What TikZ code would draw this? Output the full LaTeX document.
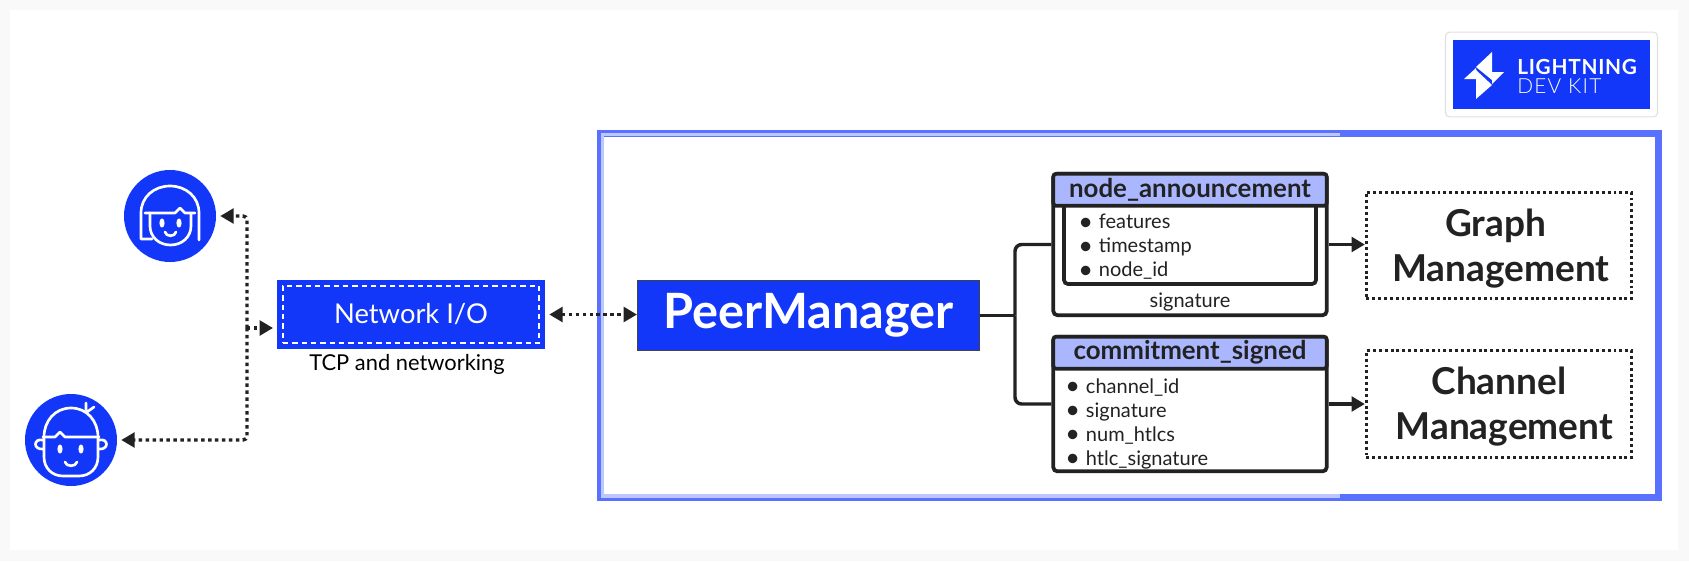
\documentclass[tikz,border=0pt]{standalone}
\usepackage{fontspec}
\setmainfont{Lato}
\newfontfamily\lightfont[LetterSpace=6]{Lato Light}
\newfontfamily\logofont[LetterSpace=3.5]{Lato}
\usetikzlibrary{arrows.meta}
\definecolor{ldkblue}{HTML}{1237F9}
\definecolor{framefg}{HTML}{5A71FF}
\definecolor{framelt}{HTML}{BCC6FF}
\definecolor{headfg}{HTML}{AAB7FF}
\definecolor{ink}{HTML}{222222}
\newcommand{\fsz}[1]{\fontsize{#1}{#1}\selectfont}
\newcommand{\itm}[1]{\makebox[15.5pt][l]{\raisebox{-1pt}{\fontsize{19}{18}\selectfont\textbullet}}#1}
\newcommand{\mgmttop}{\rule{0pt}{25pt}}
\tikzset{
  >={Triangle[length=10pt,width=11pt]},
  dotline/.style={ink,line width=2.6pt,dash pattern=on 2.6pt off 2.6pt,rounded corners=3pt},
  solidline/.style={ink,line width=2.6pt},
  tablebox/.style={draw=ink,fill=white,line width=2.8pt,rounded corners=3pt,minimum width=205pt},
  tablehead/.style={draw=ink,fill=headfg,line width=2.8pt,rounded corners=2pt,minimum width=205pt,
    minimum height=24pt,text=ink,font=\fsz{19.4}\bfseries,anchor=north,inner sep=0pt},
  fieldlist/.style={text=ink,font=\fontsize{15}{18}\selectfont,align=left,anchor=west,inner sep=0pt},
  mgmtbox/.style={draw=ink,line width=2.2pt,dash pattern=on 2.2pt off 2.2pt,minimum width=199pt,
    minimum height=80pt,text=ink,font=\fontsize{27.8}{33.7}\selectfont\bfseries,align=center},
  avatar/.style={circle,fill=ldkblue,minimum size=69pt,inner sep=0pt},
  faceline/.style={white,line width=2pt,line cap=round,line join=round},
}

\begin{document}
\begin{tikzpicture}[x=0.75pt,y=-0.75pt]
   \useasboundingbox (0,0) rectangle (1689,561);
   \fill[black!2.5] (0,0) rectangle (1689,561);
   \fill[white] (10,10) rectangle (1678,550);

   % frame
   \draw[framefg,line width=5.2pt] (600,133.5) rectangle (1658.5,497.5);
   \draw[framelt,line width=2.4pt] (1340,134.5) -- (602.5,134.5) -- (602.5,496) -- (1340,496);

   % logo
   \node[draw=black!12,fill=white,line width=0.8pt,rounded corners=3pt,minimum width=159pt,minimum height=63.5pt] (logoback) at (1551.5,74.5) {};
   \node[fill=ldkblue,minimum width=148pt,minimum height=52pt] (logo) at (1551.5,74.5) {};
   \fill[white] (1492,52) -- (1492,80) -- (1476,67) -- cycle;
   \fill[white] (1476,68) -- (1476,79) -- (1464,79) -- cycle;
   \fill[white] (1476,70) -- (1492,85) -- (1476,99) -- cycle;
   \fill[white] (1492,72) -- (1504,72) -- (1492,84) -- cycle;
   \node[white,font=\fsz{15.6}\logofont\bfseries,anchor=base west,inner sep=0pt] (logotop) at (1517,74) {LIGHTNING};
   \node[white,font=\fsz{15.6}\lightfont,anchor=base west,inner sep=0pt] (logobot) at (1517,93) {DEV KIT};

   % users
   \node[avatar] (girl) at (170,216) {};
   \begin{scope}[faceline]
     \draw (152,239) -- (141,239) -- (141,213) .. controls (141,197) and (154,186) .. (170,186) .. controls (186,186) and (199,197) .. (199,213) -- (199,240);
     \draw (145,213) -- (175,213) -- (180,208) -- (185,213) -- (195,213);
     \draw (150,213) -- (150,226) .. controls (150,237) and (159,245) .. (170.5,245) .. controls (182,245) and (191,237) .. (191,226) -- (191,213);
     \draw (165,232) .. controls (166,237) and (175,237) .. (176,232);
     \fill (162,223) ellipse [x radius=2.6,y radius=4.6];
     \fill (179,223) ellipse [x radius=2.6,y radius=4.6];
   \end{scope}

   \node[avatar] (boy) at (71,440) {};
   \begin{scope}[faceline,yshift=-0.75pt]
     \draw (44,436) .. controls (44,420) and (55,407) .. (71,407) .. controls (87,407) and (98,420) .. (98,436);
     \draw (43,436) -- (55,436) -- (60,431) -- (65,436) -- (99,436);
     \draw (44,436) -- (44,456) .. controls (44,467) and (52,475) .. (63,475) -- (79,475) .. controls (90,475) and (98,467) .. (98,456) -- (98,436);
     \draw (43,439) .. controls (33,437) and (33,449) .. (43,448);
     \draw (99,439) .. controls (109,437) and (109,449) .. (99,448);
     \draw (86,402) -- (86,410) (87,411) -- (94,406);
     \draw (65,461) .. controls (66,466) and (76,466) .. (77,461);
     \fill (60,448) ellipse [x radius=2.6,y radius=4.6];
     \fill (81,448) ellipse [x radius=2.6,y radius=4.6];
   \end{scope}

   % network box
   \node[fill=ldkblue,minimum width=201pt,minimum height=52pt,text=white,font=\fsz{20.5}] (netio) at (411,314.5) {\raisebox{-3pt}{Network I/O}};
   \node[draw=white,line width=1.8pt,dash pattern=on 4pt off 3pt,minimum width=192pt,minimum height=43pt] (netinner) at (411,314.5) {};
   \node[text=black,font=\fsz{16.4}] (netlabel) at (407,364.5) {TCP and networking};

   \coordinate (junc) at (247,328);
   \coordinate (netin) at (277,328);
   \draw[dotline,->,shorten >=3pt] (junc) |- (girl.east);
   \draw[dotline,->,shorten >=3pt] (junc) |- (boy.east);
   \draw[dotline,->,shorten >=3pt] (junc) -- (netin);

   % peer manager
   \node[draw=ink!85,fill=ldkblue,line width=0.8pt,minimum width=256.5pt,minimum height=52.5pt,text=white,font=\fsz{36.5}\bfseries] (peer) at (808.5,315.5) {\raisebox{-4pt}{PeerManager}};
   \draw[dotline,<->,shorten <=3pt] (netio.east) -- (netio.east -| peer.west);

   % messages
   \node[tablebox,minimum height=106pt] (annbox) at (1190,244.5) {};
   \node[tablehead] (annhead) at (annbox.north) {\raisebox{-3pt}{node\_announcement}};
   \draw[ink,line width=2.8pt,rounded corners=3pt] (1064,205) -- (1064,284) -- (1316,284) -- (1316,205);
   \node[fieldlist] (annlist) at (1078,247) {\itm{features}\\\itm{timestamp}\\\itm{node\_id}};
   \node[text=ink,font=\fontsize{15}{18}\selectfont,inner sep=0pt] (annsig) at (1190,302) {signature};

   \node[tablebox,minimum height=101pt] (comboxa) at (1190,404) {};
   \node[tablehead] (comhead) at (comboxa.north) {\raisebox{-3pt}{commitment\_signed}};
   \node[fieldlist] (comlist) at (1065,424) {\itm{channel\_id}\\\itm{signature}\\\itm{num\_htlcs}\\\itm{htlc\_signature}};

   % management boxes
   \node[mgmtbox] (graphbox) at (1499,245.5) {\mgmttop\hspace*{-5pt}Graph\\\hspace*{3pt}Management};
   \node[mgmtbox] (chanbox) at (1499,404) {\mgmttop Channel\\\hspace*{8pt}Management};

   \coordinate (brk) at (1015,315.5);
   \draw[solidline] (peer.east) -- (brk);
   \draw[solidline,rounded corners=5pt] (brk) |- (annbox.west);
   \draw[solidline,rounded corners=5pt] (brk) |- (comboxa.west);
   \draw[solidline,->] (annbox.east) -- (annbox.east -| graphbox.west);
   \draw[solidline,->] (comboxa.east) -- (chanbox.west);
\end{tikzpicture}
\end{document}
